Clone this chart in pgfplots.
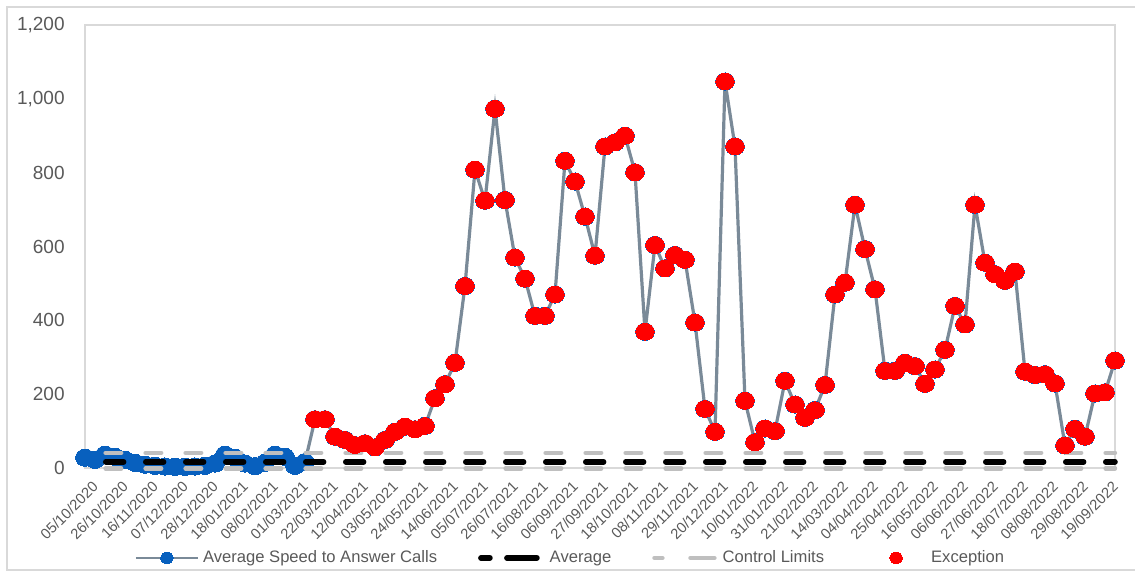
\documentclass[border=0pt]{standalone}
\usepackage{fontspec}
\setmainfont{Liberation Sans}
\usepackage{pgfplots}
\usepackage{pgfplotstable}
\pgfplotsset{compat=1.18}
\definecolor{txt}{HTML}{595959}
\definecolor{linec}{RGB}{122,138,152}
\definecolor{bluem}{RGB}{8,96,190}
\definecolor{ctrl}{HTML}{BFBFBF}
\definecolor{framec}{HTML}{D9D9D9}
\pgfplotstableread{
x y
0 28
1 22
2 36
3 30
4 22
5 14
6 9
7 6
8 4
9 3
10 3
11 4
12 6
13 12
14 36
15 28
16 12
17 5
18 14
19 36
20 30
21 6
22 16
23 132
24 132
25 85
26 76
27 62
28 67
29 56
30 76
31 98
32 112
33 105
34 114
35 189
36 227
37 285
38 493
39 808
40 724
41 973
42 726
43 570
44 513
45 412
46 412
47 470
48 832
49 776
50 681
51 575
52 871
53 882
54 900
55 801
56 369
57 604
58 541
59 577
60 564
61 394
62 160
63 98
64 1047
65 871
66 182
67 70
68 107
69 100
70 236
71 172
72 136
73 157
74 225
75 470
76 502
77 713
78 593
79 484
80 263
81 263
82 285
83 276
84 228
85 267
86 320
87 439
88 389
89 713
90 556
91 525
92 507
93 532
94 261
95 252
96 254
97 229
98 61
99 106
100 85
101 202
102 205
103 291
}\datatable
\begin{document}
\begin{tikzpicture}
\begin{axis}[
  scale only axis, width=515pt, height=221.5pt,
  xmin=0, xmax=103, ymin=0, ymax=1200,
  clip=false, clip marker paths=true,
  axis line style={draw=framec, line width=0.6pt},
  major tick length=0pt,
  ytick={0,200,...,1200},
  /pgf/number format/1000 sep={,},
  /pgf/number format/assume math mode=true,
  yticklabel style={font=\fontsize{9.5}{11}\selectfont, text=txt, inner sep=0pt, xshift=-10pt},
  xtick={0,3,...,102},
  xticklabels={05/10/2020,26/10/2020,16/11/2020,07/12/2020,28/12/2020,18/01/2021,08/02/2021,01/03/2021,22/03/2021,12/04/2021,03/05/2021,24/05/2021,14/06/2021,05/07/2021,26/07/2021,16/08/2021,06/09/2021,27/09/2021,18/10/2021,08/11/2021,29/11/2021,20/12/2021,10/01/2022,31/01/2022,21/02/2022,14/03/2022,04/04/2022,25/04/2022,16/05/2022,06/06/2022,27/06/2022,18/07/2022,08/08/2022,29/08/2022,19/09/2022},
  xticklabel style={font=\fontsize{7.4}{9}\selectfont, text=txt, rotate=45, anchor=north east, inner sep=0pt, xshift=-2pt, yshift=-6.5pt},
  legend columns=4,
  legend style={at={(0.042,-0.203)}, anchor=west, draw=none, fill=none,
    font=\fontsize{8.3}{10}\selectfont, text=txt,
    /tikz/every even column/.append style={column sep=18.5pt}},
  legend image code/.code={\path[draw=none,fill=none] (0pt,-2pt) rectangle (31pt,2pt);\draw[mark repeat=2,mark phase=2,#1] plot coordinates {(0pt,0pt) (15.5pt,0pt) (31pt,0pt)};},
]
\addplot[color=linec, line width=1.6pt, mark=*, mark size=4.3pt,
  mark options={draw=bluem, fill=bluem, xscale=1.1, line width=0pt},
  legend image post style={mark size=2.8pt, line width=1.2pt}]
  table[x=x,y=y]{\datatable};
\addlegendentry{Average Speed to Answer Calls}
\addplot[black, line width=2.8pt, line cap=round, dash pattern=on 8.9pt off 11.1pt, dash phase=9.6pt,
  legend image post style={dash pattern=on 4.5pt off 8.5pt on 15pt off 5pt, dash phase=0pt}]
  coordinates {(0,17) (103,17)};
\addlegendentry{Average}
\addplot[ctrl, line width=2.2pt, line cap=round, dash pattern=on 7.8pt off 12.2pt, dash phase=9.7pt,
  legend image post style={dash pattern=on 4pt off 14pt on 12pt off 5pt, dash phase=0pt}]
  coordinates {(0,41) (103,41)};
\addlegendentry{Control Limits}
\addplot[ctrl, line width=2.2pt, line cap=round, dash pattern=on 7.8pt off 12.2pt, dash phase=9.7pt, forget plot]
  coordinates {(0,-1) (103,-1)};
\addplot[only marks, mark=*, mark size=4.2pt,
  mark options={draw=red, fill=red, xscale=1.1, line width=0pt},
  restrict x to domain=23:103,
  legend image post style={mark size=2.8pt}]
  table[x=x,y=y]{\datatable};
\addlegendentry{Exception}
\coordinate (sw) at (rel axis cs:0,0);
\coordinate (ne) at (rel axis cs:1,1);
\end{axis}
\draw[framec, line width=0.6pt] ([shift={(-39pt,-51pt)}]sw) rectangle ([shift={(30pt,9pt)}]ne);
\pgfresetboundingbox
\path[use as bounding box] ([shift={(-42.5pt,-52pt)}]sw) rectangle ([shift={(10pt,12.5pt)}]ne);
\end{tikzpicture}
\end{document}
